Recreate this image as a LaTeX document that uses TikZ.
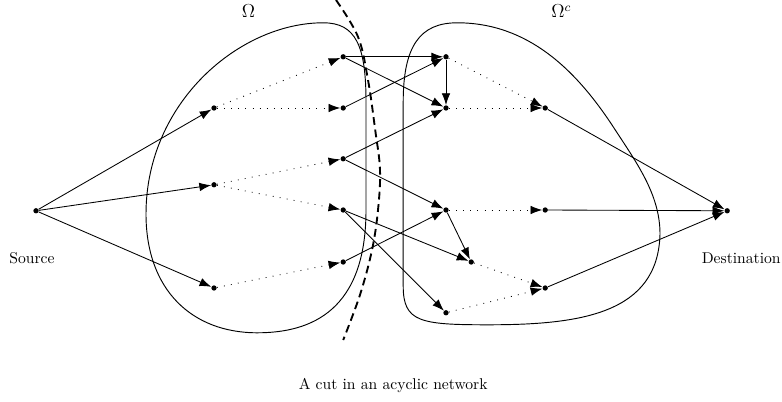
\documentclass[tikz,border=0pt]{standalone}
\usepackage{amsmath}
\usepackage{tikz}
\usetikzlibrary{arrows.meta}

\begin{document}
\begin{tikzpicture}[x=0.9cm, y=0.9cm,
  pt/.style={circle, fill, inner sep=0pt, minimum size=3.4pt},
  link/.style={-{Latex[length=7.5pt,width=5.5pt]}, line width=0.55pt},
  hop/.style={link, loosely dotted}]
\useasboundingbox (0,0) rectangle (19.55,10.05);
% The two sides of the cut
\draw[line width=0.6pt] (8.08,9.48) .. controls (8.9,9.48) and (9.15,8.9) .. (9.15,7.5)
  -- (9.15,4.8) .. controls (9.15,2.3) and (7.8,1.73) .. (6.43,1.73)
  .. controls (4.8,1.73) and (3.65,2.8) .. (3.65,4.7)
  .. controls (3.65,7.5) and (6,9.48) .. (8.08,9.48) -- cycle;
\draw[line width=0.6pt] (11.43,9.48) .. controls (10.5,9.48) and (10.08,8.9) .. (10.08,7.5)
  -- (10.08,2.9) .. controls (10.08,2.0) and (10.5,1.93) .. (12.2,1.93)
  .. controls (14.5,1.93) and (16.45,2.2) .. (16.5,4.2)
  .. controls (16.5,5.2) and (15.9,6.0) .. (15.33,6.88)
  .. controls (14.4,8.3) and (13.2,9.48) .. (11.43,9.48) -- cycle;
\node[font=\large, anchor=base] (om) at (6.21,9.6) {$\Omega$};
\node[font=\large, anchor=base] (omc) at (14.03,9.6) {$\Omega^c$};
% The cut itself
\draw[line width=1.2pt, dash pattern=on 5pt off 3pt] plot[smooth, tension=0.6] coordinates {
  (8.4,10.05) (8.95,9.13) (9.2,8.05) (9.38,6.8) (9.5,5.8) (9.45,4.8)
  (9.3,3.8) (9.0,2.68) (8.58,1.55)};
% Nodes
\node[pt] (src) at (0.9,4.78) {};
\node (srclab) at (0.8,3.6) {Source};
\node[pt] (u1) at (5.35,7.35) {};
\node[pt] (u2) at (5.35,5.43) {};
\node[pt] (u3) at (5.35,2.85) {};
\node[pt] (v1) at (8.58,8.63) {};
\node[pt] (v2) at (8.58,7.35) {};
\node[pt] (v3) at (8.58,6.08) {};
\node[pt] (v4) at (8.58,4.8) {};
\node[pt] (v5) at (8.58,3.5) {};
\node[pt] (w1) at (11.15,8.63) {};
\node[pt] (w2) at (11.15,7.35) {};
\node[pt] (w3) at (11.15,4.8) {};
\node[pt] (w4) at (11.78,3.5) {};
\node[pt] (w5) at (11.15,2.23) {};
\node[pt] (z1) at (13.63,7.35) {};
\node[pt] (z2) at (13.63,4.8) {};
\node[pt] (z3) at (13.63,2.85) {};
\node[pt] (dst) at (18.18,4.78) {};
\node (dstlab) at (18.53,3.6) {Destination};
% Edges
\draw[link] (src) -- (u1);
\draw[link] (src) -- (u2);
\draw[link] (src) -- (u3);
\draw[hop] (u1) -- (v1);
\draw[hop] (u1) -- (v2);
\draw[hop] (u2) -- (v3);
\draw[hop] (u2) -- (v4);
\draw[hop] (u3) -- (v5);
\draw[link] (v1) -- (w1);
\draw[link] (v1) -- (w2);
\draw[link] (v2) -- (w1);
\draw[link] (v3) -- (w2);
\draw[link] (v3) -- (w3);
\draw[link] (v4) -- (w4);
\draw[link] (v4) -- (w5);
\draw[link] (v5) -- (w3);
\draw[link] (w1) -- (w2);
\draw[link] (w3) -- (w4);
\draw[hop] (w1) -- (z1);
\draw[hop] (w2) -- (z1);
\draw[hop] (w3) -- (z2);
\draw[hop] (w4) -- (z3);
\draw[hop] (w5) -- (z3);
\draw[link] (z1) -- (dst);
\draw[link] (z2) -- (dst);
\draw[link] (z3) -- (dst);
% Caption
\node (cap) at (9.83,0.4) {A cut in an acyclic network};
\end{tikzpicture}
\end{document}
